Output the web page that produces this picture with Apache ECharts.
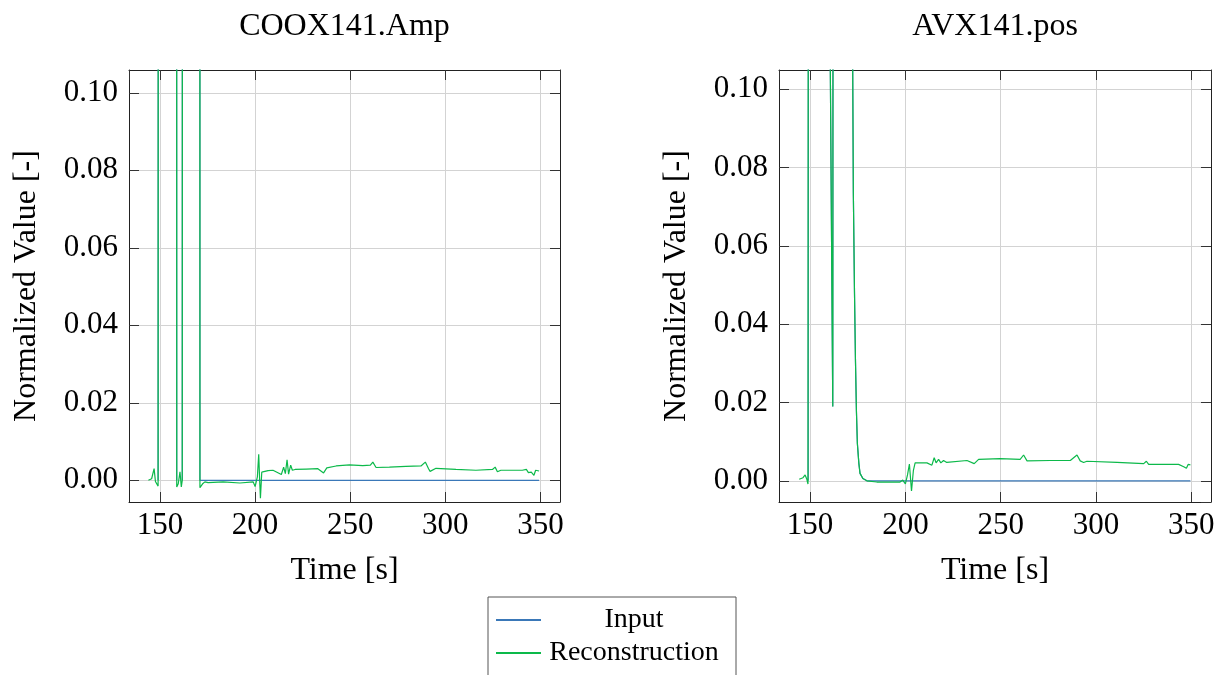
<!DOCTYPE html>
<html>
<head>
<meta charset="utf-8">
<script src="https://cdn.jsdelivr.net/npm/echarts@6/dist/echarts.min.js"></script>
<style>
html,body{margin:0;padding:0;background:#fff;}
#main{width:1227px;height:675px;}
</style>
</head>
<body>
<div id="main"></div>
<script>
// ---------- data ----------
const titles = ['COOX141.Amp', 'AVX141.pos'];
const seriesNames = ['Input', 'Reconstruction'];
const xLabel = 'Time [s]';
const yLabel = 'Normalized Value [-]';

// COOX141.Amp
const leftInputTime  = [149.0, 149.4, 158.5, 158.8, 159.0, 161.7, 162.1, 170.8, 171.0, 349.3];
const leftInputValue = [0, 1.0, 1.0, 0, null, 0, 1.0, 1.0, 0, 0];

const leftReconTime = [143.9, 144.8, 145.6, 146.9, 147.6, 148.3, 149.0, 149.4, 158.5, 158.8,
  159.6, 160.5, 161.2, 161.7, 162.1, 170.8, 171.0, 172.4, 173.6, 175.3,
  176.2, 183.2, 192.0, 199.0, 200.0, 201.2, 201.9, 202.4, 202.8, 203.5,
  204.5, 206.8, 209.4, 213.8, 215.0, 215.9, 216.8, 217.6, 218.7, 219.6,
  221.0, 226.9, 233.0, 236.0, 237.7, 242.6, 249.6, 256.6, 260.6, 261.9,
  263.6, 270.6, 279.3, 287.2, 289.5, 291.2, 292.0, 295.1, 305.6, 316.1,
  324.8, 326.2, 327.4, 329.2, 340.5, 342.6, 343.7, 345.2, 346.6, 347.5,
  348.4, 349.3];
const leftReconValue = [0.0000, -0.0004, 0.0004, 0.0030, -0.0003, 0.0000, -0.0015, 1.0, 1.0, -0.0017,
  -0.0009, 0.0022, -0.0017, 0.0000, 1.0, 1.0, -0.0019, -0.0009, -0.0004, -0.0006,
  -0.0007, -0.0004, -0.0007, -0.0004, -0.0016, 0.0009, 0.0067, 0.0000, -0.0046, 0.0021,
  0.0024, 0.0025, 0.0026, 0.0015, 0.0034, 0.0017, 0.0053, 0.0016, 0.0039, 0.0026,
  0.0028, 0.0029, 0.0030, 0.0019, 0.0032, 0.0037, 0.0040, 0.0038, 0.0039, 0.0047,
  0.0033, 0.0034, 0.0036, 0.0037, 0.0047, 0.0030, 0.0023, 0.0031, 0.0028, 0.0026,
  0.0028, 0.0034, 0.0022, 0.0026, 0.0026, 0.0028, 0.0020, 0.0021, 0.0013, 0.0026,
  0.0022, 0.0024];

// AVX141.pos
const rightInputTime  = [149.0, 149.5, 160.0, 160.4, 161.9, 162.25, 171.7, 172.2, 172.7, 173.3,
  173.8, 174.3, 174.8, 175.6, 176.2, 177.7, 179.8, 349.5];
const rightInputValue = [0, 0.6, 0.4, 0.12, 0.019, 0.3, 0.5, 0.12, 0.0734, 0.048,
  0.031, 0.018, 0.0096, 0.0044, 0.0019, 0.0006, 0.0000, 0.0000];

const rightReconTime = [144.3, 145.3, 146.3, 147.4, 148.3, 148.9, 149.5, 160.0, 160.4, 161.9,
  162.25, 171.7, 172.2, 172.7, 173.3, 173.8, 174.3, 174.8, 175.6, 176.2,
  177.7, 179.8, 185.0, 197.2, 198.6, 200.0, 201.1, 202.1, 203.2, 204.2,
  205.1, 211.3, 213.9, 215.1, 216.1, 217.4, 218.6, 220.0, 221.7, 232.3,
  236.1, 238.4, 249.7, 260.2, 262.0, 263.8, 276.0, 286.5, 290.0, 291.7,
  293.5, 295.2, 311.0, 325.0, 326.4, 327.6, 328.5, 343.3, 346.0, 347.4,
  348.3, 349.5];
const rightReconValue = [0.0004, 0.0001, 0.0008, 0.0015, 0.0004, -0.0008, 0.6, 0.4, 0.12, 0.019,
  0.3, 0.5, 0.12, 0.0734, 0.048, 0.031, 0.018, 0.0096, 0.0044, 0.0019,
  0.0006, 0.0000, -0.0003, -0.0003, 0.0002, -0.0008, 0.0015, 0.0043, -0.0026, 0.0027,
  0.0046, 0.0046, 0.0040, 0.0059, 0.0046, 0.0055, 0.0046, 0.0052, 0.0047, 0.0052,
  0.0044, 0.0055, 0.0057, 0.0055, 0.0066, 0.0051, 0.0052, 0.0052, 0.0066, 0.0051,
  0.0047, 0.0050, 0.0047, 0.0044, 0.0050, 0.0042, 0.0043, 0.0042, 0.0036, 0.0032,
  0.0042, 0.0041];

// axis ranges
const xRange = [133.7, 360.3];
const yRangeLeft = [-0.0056, 0.1059];
const yRangeRight = [-0.0054, 0.1049];

// ---------- styling ----------
const FONT = 'Liberation Serif';
const colInput = '#3a78b8';
const colRecon = '#0cb94a';
const frameColor = '#222';
const gridColor = '#d3d3d3';

function zip(t, v) { return t.map((x, i) => [x, v[i]]); }

const grids = [
  { left: 129, top: 70, width: 431, height: 432 },
  { left: 779, top: 70, width: 432, height: 432 }
];

const tickStyle = { show: true, inside: true, length: 10, lineStyle: { color: '#333', width: 1 } };
const frameLine = { show: true, onZero: false, lineStyle: { color: frameColor, width: 1 } };

function mainX(gi) {
  return {
    type: 'value', gridIndex: gi, position: 'bottom',
    min: xRange[0], max: xRange[1], splitNumber: 5,
    axisLine: frameLine, axisTick: tickStyle,
    axisLabel: { show: true, fontFamily: FONT, fontSize: 31, color: '#000', margin: 8,
      showMinLabel: false, showMaxLabel: false, formatter: v => String(Math.round(v)) },
    splitLine: { show: true, lineStyle: { color: gridColor, width: 1 } },
    name: xLabel, nameLocation: 'middle', nameGap: 53,
    nameTextStyle: { fontFamily: FONT, fontSize: 32, color: '#000' }
  };
}
function topX(gi) {
  return {
    type: 'value', gridIndex: gi, position: 'top',
    min: xRange[0], max: xRange[1], splitNumber: 5,
    axisLine: frameLine, axisTick: tickStyle,
    axisLabel: { show: false }, splitLine: { show: false }
  };
}
function mainY(gi, r) {
  return {
    type: 'value', gridIndex: gi, position: 'left',
    min: r[0], max: r[1], splitNumber: 5,
    axisLine: frameLine, axisTick: tickStyle,
    axisLabel: { show: true, fontFamily: FONT, fontSize: 31, color: '#000', margin: 11,
      showMinLabel: false, showMaxLabel: false, formatter: v => v.toFixed(2) },
    splitLine: { show: true, lineStyle: { color: gridColor, width: 1 } },
    name: yLabel, nameLocation: 'middle', nameGap: 86,
    nameTextStyle: { fontFamily: FONT, fontSize: 32, color: '#000' }
  };
}
function rightY(gi, r) {
  return {
    type: 'value', gridIndex: gi, position: 'right',
    min: r[0], max: r[1], splitNumber: 5,
    axisLine: frameLine, axisTick: tickStyle,
    axisLabel: { show: false }, splitLine: { show: false }
  };
}
function line(name, xi, yi, data, color) {
  return {
    name, type: 'line', xAxisIndex: xi, yAxisIndex: yi, data,
    showSymbol: false, symbol: 'none', clip: true, animation: false,
    lineStyle: { color, width: 1.2 }, itemStyle: { color }
  };
}

const chart = echarts.init(document.getElementById('main'), null, { renderer: 'canvas' });
chart.setOption({
  backgroundColor: '#fff',
  animation: false,
  title: [
    { text: titles[0], left: 344.5, top: 11, textAlign: 'center', padding: 0,
      textStyle: { fontFamily: FONT, fontSize: 32, fontWeight: 'normal', color: '#000' } },
    { text: titles[1], left: 995, top: 11, textAlign: 'center', padding: 0,
      textStyle: { fontFamily: FONT, fontSize: 32, fontWeight: 'normal', color: '#000' } }
  ],
  grid: grids,
  xAxis: [mainX(0), topX(0), mainX(1), topX(1)],
  yAxis: [mainY(0, yRangeLeft), rightY(0, yRangeLeft), mainY(1, yRangeRight), rightY(1, yRangeRight)],
  legend: {
    data: seriesNames, orient: 'vertical', left: 488, top: 597, height: 120,
    padding: [7, 14, 7, 8], itemWidth: 45, itemHeight: 2, itemGap: 1, icon: 'rect',
    borderColor: '#555', borderWidth: 1, borderRadius: 0, backgroundColor: '#fff',
    formatter: '{c|{name}}',
    textStyle: { fontFamily: FONT, fontSize: 28, color: '#000', lineHeight: 32,
      rich: { c: { width: 176, align: 'center', fontFamily: FONT, fontSize: 28, lineHeight: 32, color: '#000' } } }
  },
  series: [
    line(seriesNames[0], 0, 0, zip(leftInputTime, leftInputValue), colInput),
    line(seriesNames[1], 0, 0, zip(leftReconTime, leftReconValue), colRecon),
    line(seriesNames[0], 2, 2, zip(rightInputTime, rightInputValue), colInput),
    line(seriesNames[1], 2, 2, zip(rightReconTime, rightReconValue), colRecon)
  ]
});
</script>
</body>
</html>
